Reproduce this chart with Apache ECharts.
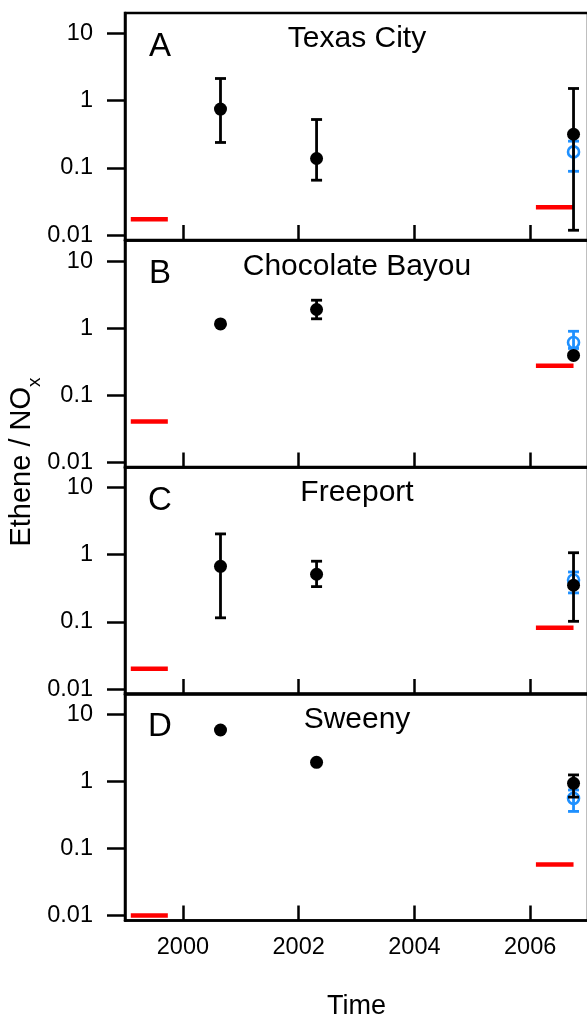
<!DOCTYPE html>
<html><head><meta charset="utf-8">
<script src="https://cdn.jsdelivr.net/npm/echarts@6/dist/echarts.min.js"></script>
<style>html,body{margin:0;padding:0;background:#fff;overflow:hidden}#c{width:587px;height:1017px}</style>
</head><body><div id="c"></div><script>
// ---- data ----
const siteNames = ['Texas City', 'Chocolate Bayou', 'Freeport', 'Sweeny'];
const panelLetters = ['A', 'B', 'C', 'D'];
const campaignYears = [2000.65, 2002.31, 2006.75];
const ethTexasCity = [0.75, 0.138, 0.317];
const lowTexasCity = [0.239, 0.0656, 0.0118];
const highTexasCity = [2.14, 0.525, 1.52];
const ethChocolateBayou = [1.16, 1.90, 0.394];
const lowChocolateBayou = [null, 1.38, null];
const highChocolateBayou = [null, 2.61, null];
const ethFreeport = [0.671, 0.512, 0.351];
const lowFreeport = [0.115, 0.335, 0.102];
const highFreeport = [2.04, 0.80, 1.07];
const ethSweeny = [5.78, 1.91, 0.93];
const lowSweeny = [null, null, 0.58];
const highSweeny = [null, null, 1.24];
const blueYear = 2006.75;
const blueEth = [0.173, 0.612, 0.42, 0.556];
const blueLow = [0.089, 0.50, 0.27, 0.355];
const blueHigh = [0.25, 0.90, 0.553, 0.74];
const baselineStart = [1999.1, 2006.1];
const baselineEnd = [1999.74, 2006.75];
const baselineEarly = [0.01725, 0.041, 0.020, 0.010];
const baselineLate = [0.026, 0.276, 0.0815, 0.0575];
const yTickValues = [0.01, 0.1, 1, 10];
const xTickValues = [2000, 2002, 2004, 2006];

const blackMeans = [ethTexasCity, ethChocolateBayou, ethFreeport, ethSweeny];
const blackLows = [lowTexasCity, lowChocolateBayou, lowFreeport, lowSweeny];
const blackHighs = [highTexasCity, highChocolateBayou, highFreeport, highSweeny];

// ---- layout ----
const FONT = '"Liberation Sans", Arial, Helvetica, sans-serif';
const panelTops = [13, 240.5, 467, 693.5];
const panelH = 227;
const yMin = 0.00845, yMax = 20.2;
const xMin = 1999, xMax = 2007;

function errRenderer(color, filled, r) {
  return function (params, api) {
    const x = api.value(0), m = api.value(1), lo = api.value(2), hi = api.value(3);
    const c = api.coord([x, m]);
    const children = [];
    if (isFinite(lo) && isFinite(hi) && lo > 0 && hi > 0) {
      const t = api.coord([x, hi]), b = api.coord([x, lo]);
      const st = { stroke: color, lineWidth: 2.8 };
      children.push({ type: 'line', shape: { x1: t[0], y1: t[1], x2: b[0], y2: b[1] }, style: st });
      children.push({ type: 'line', shape: { x1: t[0] - 5.5, y1: t[1], x2: t[0] + 5.5, y2: t[1] }, style: st });
      children.push({ type: 'line', shape: { x1: b[0] - 5.5, y1: b[1], x2: b[0] + 5.5, y2: b[1] }, style: st });
    }
    children.push({
      type: 'circle', shape: { cx: c[0], cy: c[1], r: r },
      style: filled ? { fill: color, stroke: null } : { fill: 'none', stroke: color, lineWidth: 2.6 }
    });
    return { type: 'group', children: children };
  };
}
function segRenderer(params, api) {
  const a = api.coord([api.value(0), api.value(2)]);
  const b = api.coord([api.value(1), api.value(2)]);
  return { type: 'line', shape: { x1: a[0], y1: a[1], x2: b[0], y2: b[1] }, style: { stroke: '#ff0000', lineWidth: 4.5 } };
}

const grids = [], xAxes = [], yAxes = [], series = [], titles = [];
for (let i = 0; i < 4; i++) {
  grids.push({ left: 125, right: -1, top: panelTops[i], height: panelH, show: true, borderColor: '#000', borderWidth: 2.5,
    backgroundColor: 'transparent', containLabel: false, outerBoundsMode: 'none' });
  const last = i === 3;
  xAxes.push({
    type: 'value', gridIndex: i, min: xMin, max: xMax,
    axisLine: { show: true, onZero: false, lineStyle: { color: '#000', width: 2.5 } },
    axisTick: { show: true, inside: true, length: 15, lineStyle: { color: '#000', width: 2.5 }, customValues: xTickValues },
    axisLabel: { show: last, customValues: xTickValues, fontSize: 23.5, color: '#000', fontFamily: FONT, margin: 15, formatter: v => String(v) },
    splitLine: { show: false },
    name: last ? 'Time' : '', nameLocation: 'middle', nameGap: 73,
    nameTextStyle: { fontSize: 27, color: '#000', fontFamily: FONT }
  });
  yAxes.push({
    type: 'log', gridIndex: i, min: yMin, max: yMax, logBase: 10,
    axisLine: { show: true, lineStyle: { color: '#000', width: 2.5 } },
    axisTick: { show: true, inside: false, length: 18, lineStyle: { color: '#000', width: 2.5 }, customValues: yTickValues },
    axisLabel: { show: true, customValues: yTickValues, fontSize: 23.5, color: '#000', fontFamily: FONT, margin: 32, formatter: v => String(v) },
    minorTick: { show: false }, splitLine: { show: false }
  });
  // red baseline segments
  series.push({
    type: 'custom', xAxisIndex: i, yAxisIndex: i, z: 2, silent: true,
    renderItem: segRenderer, encode: { x: [0, 1], y: 2 },
    data: [[baselineStart[0], baselineEnd[0], baselineEarly[i]], [baselineStart[1], baselineEnd[1], baselineLate[i]]]
  });
  // blue open circle
  series.push({
    type: 'custom', xAxisIndex: i, yAxisIndex: i, z: 3, silent: true,
    renderItem: errRenderer('#1e90ff', false, 5.5), encode: { x: 0, y: 1 },
    data: [[blueYear, blueEth[i], blueLow[i], blueHigh[i]]]
  });
  // black filled points
  series.push({
    type: 'custom', xAxisIndex: i, yAxisIndex: i, z: 4, silent: true,
    renderItem: errRenderer('#000', true, 6.5), encode: { x: 0, y: 1 },
    data: campaignYears.map((yr, k) => [yr, blackMeans[i][k],
      blackLows[i][k] == null ? NaN : blackLows[i][k],
      blackHighs[i][k] == null ? NaN : blackHighs[i][k]])
  });
  titles.push({ text: siteNames[i], left: 357, top: panelTops[i] + 11, textAlign: 'center', padding: 0,
    textStyle: { fontSize: 30, fontWeight: 'normal', color: '#000', fontFamily: FONT } });
  titles.push({ text: panelLetters[i], left: 160, top: panelTops[i] + 17, textAlign: 'center', padding: 0,
    textStyle: { fontSize: 33, fontWeight: 'normal', color: '#000', fontFamily: FONT } });
}

const chart = echarts.init(document.getElementById('c'), null, { renderer: 'canvas' });
chart.setOption({
  animation: false,
  backgroundColor: '#fff',
  title: titles,
  grid: grids, xAxis: xAxes, yAxis: yAxes, series: series,
  graphic: [{
    type: 'text', x: 22, y: 462, rotation: Math.PI / 2,
    style: {
      text: '{a|Ethene / NO}{b|x}', align: 'center', verticalAlign: 'middle',
      rich: {
        a: { fontSize: 29, lineHeight: 44, fontFamily: FONT, fill: '#000', verticalAlign: 'middle' },
        b: { fontSize: 19, lineHeight: 19, fontFamily: FONT, fill: '#000', verticalAlign: 'bottom' }
      }
    }
  }]
});
</script></body></html>
